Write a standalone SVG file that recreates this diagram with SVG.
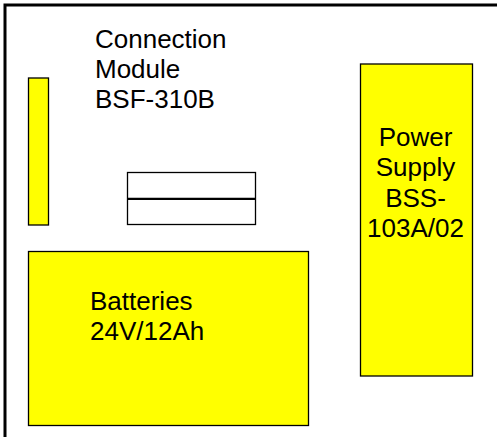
<svg xmlns="http://www.w3.org/2000/svg" width="497" height="437" viewBox="0 0 497 437">
<style>
.box{fill:#ffff00;stroke:#000;stroke-width:1.3}
.plain{fill:#fff;stroke:#000;stroke-width:1.3}
.t{font-family:"Liberation Sans",Arial,sans-serif;font-size:26px;fill:#000}
</style>
<rect width="497" height="437" fill="#fff"/>
<g id="frame">
<path d="M5,437 V5 H497" fill="none" stroke="#000" stroke-width="3"/>
</g>
<g id="connection-module">
<rect class="box" x="28.5" y="78" width="20" height="147"/>
<text class="t" x="95" y="48.3">Connection</text>
<text class="t" x="95" y="78.3">Module</text>
<text class="t" x="95" y="108.3">BSF-310B</text>
</g>
<g id="fuse">
<rect class="plain" x="127.5" y="172.5" width="128" height="52"/>
<line x1="127.5" y1="198.8" x2="255.5" y2="198.8" stroke="#000" stroke-width="2.2"/>
</g>
<g id="power-supply">
<rect class="box" x="360.5" y="64" width="112" height="312"/>
<text class="t" x="415.5" text-anchor="middle" y="145.7">Power</text>
<text class="t" x="415.5" text-anchor="middle" y="176.2">Supply</text>
<text class="t" x="415.5" text-anchor="middle" y="206.7">BSS-</text>
<text class="t" x="415.5" text-anchor="middle" y="237.3">103A/02</text>
</g>
<g id="batteries">
<rect class="box" x="28.5" y="251.5" width="280" height="174"/>
<text class="t" x="90" y="309.7">Batteries</text>
<text class="t" x="90" y="339.7">24V/12Ah</text>
</g>
<g id="connectors"></g>
</svg>
